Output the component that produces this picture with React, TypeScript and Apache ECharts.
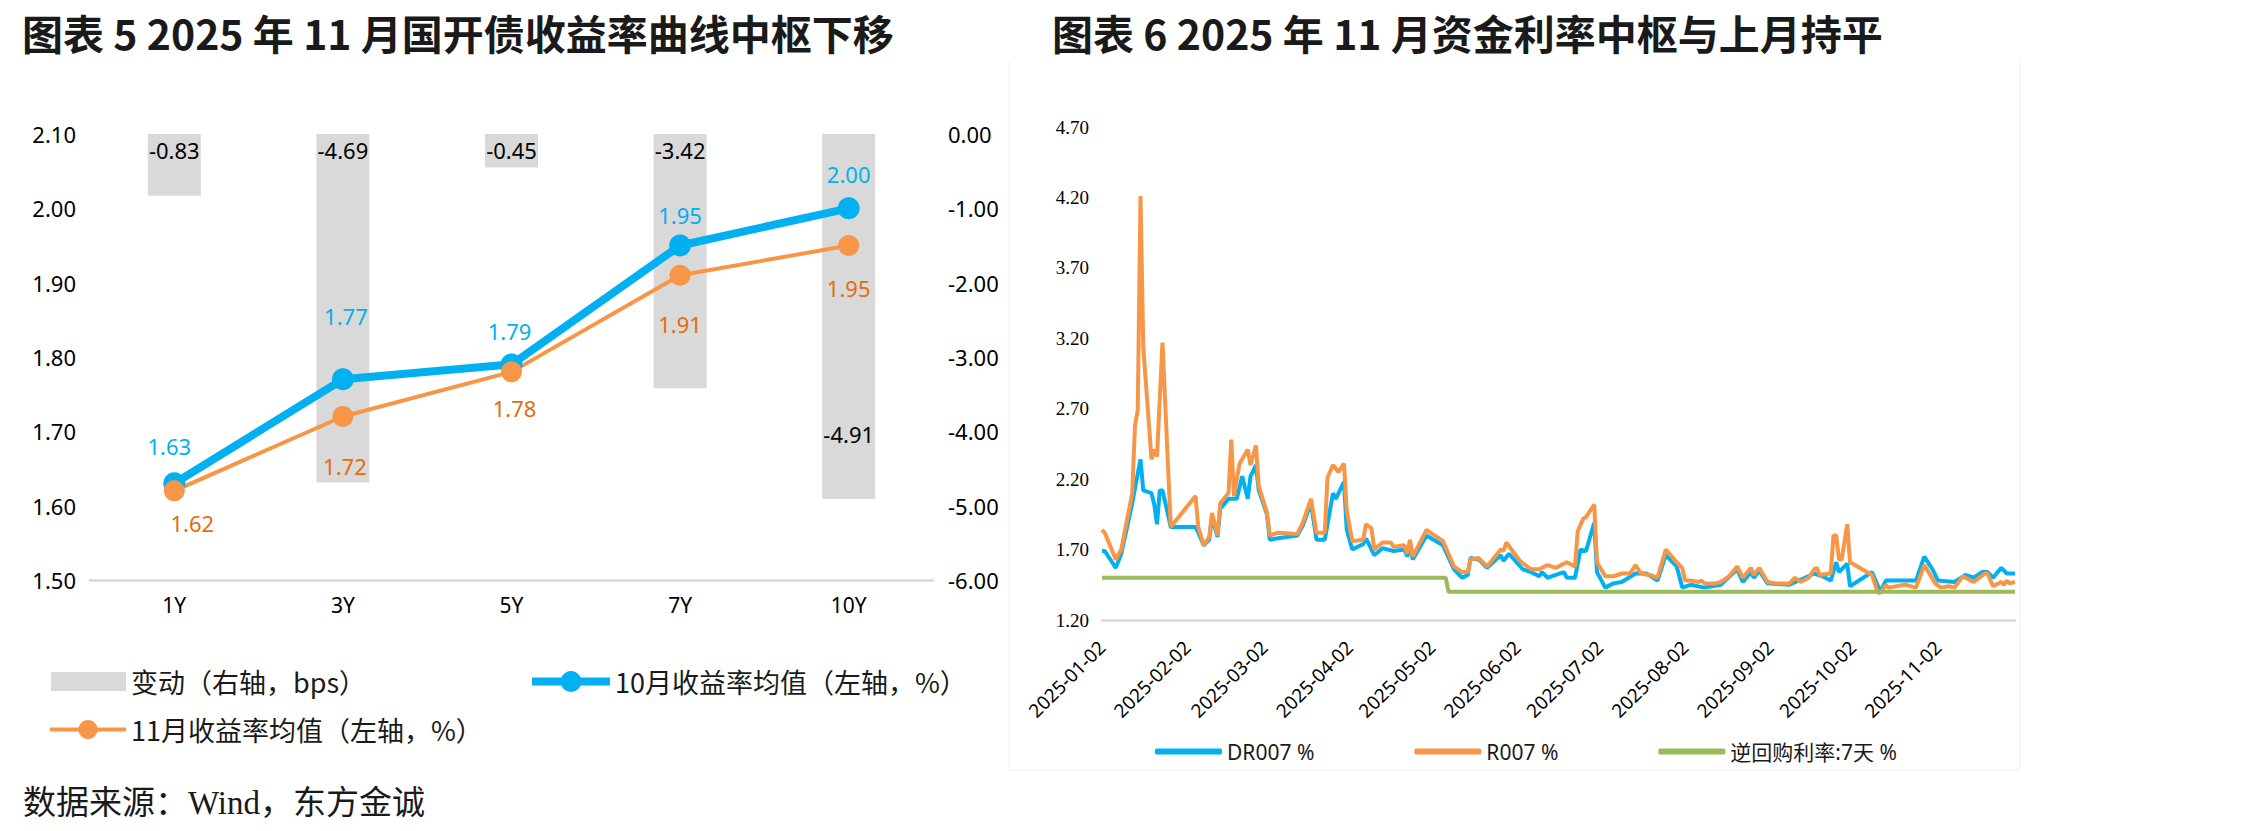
import React, { useEffect, useRef } from 'react';
import * as echarts from 'echarts';

// ---- Figure 5: CDB yield curve (Oct vs Nov average) and change ----
const tenorCategories = ['1Y', '3Y', '5Y', '7Y', '10Y'];
const changeBps = [-0.83, -4.69, -0.45, -3.42, -4.91];
const octAvgYield = [1.63, 1.77, 1.79, 1.95, 2.0];
const novAvgYield = [1.62, 1.72, 1.78, 1.91, 1.95];

// label placement (pixel offsets from each marker centre)
const octLabelOffsets = [[-5, -37], [3, -63], [-2, -33], [0, -31], [0, -34]];
const novLabelOffsets = [[18, 32], [2, 50], [3, 36], [0, 49], [0, 42]];

// ---- Figure 6: money market rates, 2025 ----
const dr007: [string, number][] = [
  ['2025-01-02', 1.69], ['2025-01-03', 1.69], ['2025-01-07', 1.57], ['2025-01-09', 1.67],
  ['2025-01-13', 2.03], ['2025-01-15', 2.24], ['2025-01-16', 2.34], ['2025-01-17', 2.12],
  ['2025-01-20', 2.10], ['2025-01-21', 2.02], ['2025-01-22', 1.88], ['2025-01-23', 2.12],
  ['2025-01-24', 2.12], ['2025-01-27', 1.86], ['2025-02-05', 1.86], ['2025-02-06', 1.82],
  ['2025-02-08', 1.73], ['2025-02-10', 1.77], ['2025-02-11', 1.93], ['2025-02-13', 1.79],
  ['2025-02-14', 1.99], ['2025-02-17', 2.06], ['2025-02-20', 2.06], ['2025-02-22', 2.22],
  ['2025-02-24', 2.06], ['2025-02-25', 2.22], ['2025-02-27', 2.30], ['2025-02-28', 2.12],
  ['2025-03-03', 1.95], ['2025-03-04', 1.77], ['2025-03-07', 1.78], ['2025-03-14', 1.80],
  ['2025-03-16', 1.87], ['2025-03-19', 2.03], ['2025-03-21', 1.77], ['2025-03-24', 1.77],
  ['2025-03-27', 2.10], ['2025-03-28', 2.06], ['2025-03-31', 2.18], ['2025-04-01', 1.84],
  ['2025-04-03', 1.70], ['2025-04-07', 1.74], ['2025-04-08', 1.78], ['2025-04-11', 1.66],
  ['2025-04-14', 1.71], ['2025-04-18', 1.69], ['2025-04-22', 1.70], ['2025-04-23', 1.65],
  ['2025-04-24', 1.73], ['2025-04-25', 1.63], ['2025-04-30', 1.80], ['2025-05-06', 1.73],
  ['2025-05-10', 1.56], ['2025-05-13', 1.50], ['2025-05-15', 1.52], ['2025-05-16', 1.64],
  ['2025-05-19', 1.63], ['2025-05-22', 1.57], ['2025-05-27', 1.66], ['2025-05-28', 1.62],
  ['2025-05-30', 1.67], ['2025-06-04', 1.56], ['2025-06-07', 1.54], ['2025-06-10', 1.51],
  ['2025-06-11', 1.54], ['2025-06-13', 1.50], ['2025-06-16', 1.52], ['2025-06-19', 1.54],
  ['2025-06-20', 1.50], ['2025-06-23', 1.50], ['2025-06-25', 1.70], ['2025-06-27', 1.69],
  ['2025-06-30', 1.89], ['2025-07-01', 1.54], ['2025-07-04', 1.43], ['2025-07-07', 1.46],
  ['2025-07-10', 1.47], ['2025-07-15', 1.53], ['2025-07-19', 1.53], ['2025-07-23', 1.48],
  ['2025-07-26', 1.66], ['2025-07-30', 1.58], ['2025-08-01', 1.43], ['2025-08-04', 1.45],
  ['2025-08-09', 1.43], ['2025-08-15', 1.45], ['2025-08-21', 1.56], ['2025-08-23', 1.47],
  ['2025-08-26', 1.54], ['2025-08-27', 1.50], ['2025-08-29', 1.55], ['2025-09-01', 1.46],
  ['2025-09-09', 1.45], ['2025-09-18', 1.53], ['2025-09-21', 1.51], ['2025-09-24', 1.48],
  ['2025-09-26', 1.61], ['2025-09-27', 1.54], ['2025-09-30', 1.60], ['2025-10-01', 1.44],
  ['2025-10-09', 1.54], ['2025-10-12', 1.40], ['2025-10-14', 1.48], ['2025-10-25', 1.48],
  ['2025-10-28', 1.65], ['2025-10-31', 1.56], ['2025-11-02', 1.48], ['2025-11-08', 1.47],
  ['2025-11-12', 1.52], ['2025-11-15', 1.50], ['2025-11-18', 1.54], ['2025-11-20', 1.54],
  ['2025-11-22', 1.50], ['2025-11-25', 1.57], ['2025-11-27', 1.53], ['2025-11-30', 1.53],
];

const r007: [string, number][] = [
  ['2025-01-02', 1.84], ['2025-01-03', 1.82], ['2025-01-07', 1.63], ['2025-01-09', 1.70],
  ['2025-01-13', 2.10], ['2025-01-14', 2.58], ['2025-01-15', 2.69], ['2025-01-16', 4.21],
  ['2025-01-17', 3.14], ['2025-01-20', 2.34], ['2025-01-21', 2.41], ['2025-01-22', 2.36],
  ['2025-01-24', 3.17], ['2025-01-27', 1.86], ['2025-02-05', 2.08], ['2025-02-06', 1.86],
  ['2025-02-08', 1.73], ['2025-02-10', 1.79], ['2025-02-11', 1.96], ['2025-02-13', 1.80],
  ['2025-02-14', 2.03], ['2025-02-17', 2.10], ['2025-02-18', 2.48], ['2025-02-19', 2.08],
  ['2025-02-21', 2.31], ['2025-02-24', 2.41], ['2025-02-25', 2.30], ['2025-02-27', 2.44],
  ['2025-02-28', 2.15], ['2025-03-03', 1.96], ['2025-03-04', 1.80], ['2025-03-07', 1.82],
  ['2025-03-14', 1.81], ['2025-03-16', 1.89], ['2025-03-19', 2.06], ['2025-03-21', 1.82],
  ['2025-03-24', 1.82], ['2025-03-25', 2.21], ['2025-03-27', 2.30], ['2025-03-29', 2.25],
  ['2025-03-31', 2.31], ['2025-04-01', 1.98], ['2025-04-03', 1.76], ['2025-04-07', 1.77],
  ['2025-04-08', 1.88], ['2025-04-10', 1.85], ['2025-04-11', 1.70], ['2025-04-14', 1.75],
  ['2025-04-17', 1.75], ['2025-04-18', 1.72], ['2025-04-22', 1.73], ['2025-04-23', 1.67],
  ['2025-04-24', 1.77], ['2025-04-25', 1.65], ['2025-04-30', 1.84], ['2025-05-06', 1.76],
  ['2025-05-10', 1.58], ['2025-05-13', 1.54], ['2025-05-15', 1.54], ['2025-05-16', 1.63],
  ['2025-05-19', 1.64], ['2025-05-22', 1.58], ['2025-05-27', 1.70], ['2025-05-28', 1.69],
  ['2025-05-29', 1.75], ['2025-06-03', 1.62], ['2025-06-07', 1.56], ['2025-06-10', 1.56],
  ['2025-06-13', 1.59], ['2025-06-16', 1.57], ['2025-06-20', 1.61], ['2025-06-23', 1.58],
  ['2025-06-24', 1.83], ['2025-06-26', 1.92], ['2025-06-27', 1.93], ['2025-06-30', 2.02],
  ['2025-07-01', 1.61], ['2025-07-04', 1.51], ['2025-07-07', 1.51], ['2025-07-10', 1.53],
  ['2025-07-13', 1.53], ['2025-07-15', 1.59], ['2025-07-17', 1.53], ['2025-07-20', 1.52],
  ['2025-07-23', 1.50], ['2025-07-26', 1.70], ['2025-07-30', 1.61], ['2025-08-01', 1.57],
  ['2025-08-02', 1.48], ['2025-08-04', 1.48], ['2025-08-07', 1.47], ['2025-08-08', 1.48],
  ['2025-08-09', 1.46], ['2025-08-13', 1.46], ['2025-08-15', 1.47], ['2025-08-18', 1.51],
  ['2025-08-21', 1.58], ['2025-08-23', 1.50], ['2025-08-26', 1.57], ['2025-08-27', 1.52],
  ['2025-08-29', 1.57], ['2025-09-01', 1.47], ['2025-09-04', 1.46], ['2025-09-09', 1.46],
  ['2025-09-11', 1.50], ['2025-09-13', 1.47], ['2025-09-16', 1.50], ['2025-09-18', 1.56],
  ['2025-09-19', 1.57], ['2025-09-20', 1.52], ['2025-09-24', 1.53], ['2025-09-25', 1.80],
  ['2025-09-26', 1.80], ['2025-09-27', 1.63], ['2025-09-28', 1.63], ['2025-09-30', 1.88],
  ['2025-10-01', 1.61], ['2025-10-09', 1.52], ['2025-10-11', 1.40], ['2025-10-12', 1.39],
  ['2025-10-14', 1.45], ['2025-10-15', 1.43], ['2025-10-21', 1.45], ['2025-10-25', 1.43],
  ['2025-10-28', 1.59], ['2025-11-01', 1.46], ['2025-11-03', 1.43], ['2025-11-06', 1.44],
  ['2025-11-08', 1.43], ['2025-11-11', 1.51], ['2025-11-15', 1.47], ['2025-11-19', 1.53],
  ['2025-11-20', 1.53], ['2025-11-22', 1.44], ['2025-11-25', 1.47], ['2025-11-26', 1.45],
  ['2025-11-27', 1.48], ['2025-11-28', 1.46], ['2025-11-30', 1.47],
];

const reverseRepo7d: [string, number][] = [
  ['2025-01-02', 1.5], ['2025-05-07', 1.5], ['2025-05-08', 1.4], ['2025-11-30', 1.4],
];

// calendar days on the date axis, 2025-01-02 .. 2025-11-30
const axisDates: string[] = [];
{
  const day = new Date(Date.UTC(2025, 0, 2));
  const last = Date.UTC(2025, 10, 30);
  while (day.getTime() <= last) {
    axisDates.push(day.toISOString().slice(0, 10));
    day.setUTCDate(day.getUTCDate() + 1);
  }
}

const BLUE = '#00B0F0';
const ORANGE = '#F79646';
const ORANGE_TEXT = '#E46C0A';
const GREEN = '#9BBB59';
const GREY_BAR = '#D9D9D9';
const SANS = '"Noto Sans", "Noto Sans CJK SC", sans-serif';
const CJK = '"Noto Sans CJK SC", "Noto Sans", sans-serif';

const NAME_CHG = '变动（右轴，bps）';
const NAME_OCT = '10月收益率均值（左轴，%）';
const NAME_NOV = '11月收益率均值（左轴，%）';
const NAME_DR = 'DR007 %';
const NAME_R = 'R007 %';
const NAME_RR = '逆回购利率:7天 %';

export default function App() {
  const ref = useRef<HTMLDivElement>(null);

  useEffect(() => {
    document.body.style.margin = '0';
    if (!ref.current) return;
    const chart = echarts.init(ref.current, undefined, { renderer: 'svg' });

    const option: any = {
      animation: false,
      backgroundColor: '#ffffff',
      grid: [
        { left: 90, top: 134, width: 843, height: 446 },
        { left: 1102, top: 127, width: 913, height: 493 },
      ],
      xAxis: [
        {
          gridIndex: 0,
          type: 'category',
          data: tenorCategories,
          axisLine: { onZero: false, lineStyle: { color: '#D9D9D9', width: 2.5 } },
          axisTick: { show: false },
          axisLabel: { fontSize: 21, color: '#000', margin: 14, fontFamily: SANS },
        },
        {
          gridIndex: 1,
          type: 'category',
          data: axisDates,
          boundaryGap: false,
          axisLine: { onZero: false, lineStyle: { color: '#D9D9D9', width: 2.5 } },
          axisTick: { show: false },
          axisLabel: {
            rotate: 45,
            fontSize: 19,
            color: '#000',
            margin: 24,
            fontFamily: SANS,
            interval: (_i: number, v: string) => v.endsWith('-02'),
          },
        },
      ],
      yAxis: [
        {
          gridIndex: 0,
          type: 'value',
          position: 'left',
          min: 1.5,
          max: 2.1,
          interval: 0.1,
          splitLine: { show: false },
          axisLine: { show: false },
          axisTick: { show: false },
          axisLabel: {
            fontSize: 22, color: '#000', margin: 14, fontFamily: SANS,
            formatter: (v: number) => v.toFixed(2),
          },
        },
        {
          gridIndex: 0,
          type: 'value',
          position: 'right',
          min: -6,
          max: 0,
          interval: 1,
          splitLine: { show: false },
          axisLine: { show: false },
          axisTick: { show: false },
          axisLabel: {
            fontSize: 22, color: '#000', margin: 15, fontFamily: SANS,
            formatter: (v: number) => v.toFixed(2),
          },
        },
        {
          gridIndex: 1,
          type: 'value',
          min: 1.2,
          max: 4.7,
          interval: 0.5,
          splitLine: { show: false },
          axisLine: { show: false },
          axisTick: { show: false },
          axisLabel: {
            fontSize: 19, color: '#000', margin: 13,
            fontFamily: '"Liberation Serif", "Times New Roman", serif',
            formatter: (v: number) => v.toFixed(2),
          },
        },
      ],
      legend: [
        {
          data: [NAME_CHG],
          left: 46, top: 663,
          icon: 'rect',
          itemWidth: 75, itemHeight: 19,
          textStyle: { fontSize: 27, color: '#1a1a1a', fontFamily: CJK },
        },
        {
          data: [NAME_OCT],
          left: 523, top: 663,
          itemWidth: 78, itemHeight: 26,
          lineStyle: { width: 8 },
          textStyle: { fontSize: 27, color: '#1a1a1a', fontFamily: CJK },
        },
        {
          data: [NAME_NOV],
          left: 43, top: 711,
          itemWidth: 76, itemHeight: 24,
          lineStyle: { width: 4 },
          textStyle: { fontSize: 27, color: '#1a1a1a', fontFamily: CJK },
        },
        {
          data: [NAME_DR, NAME_R, NAME_RR],
          left: 1150, top: 736,
          icon: 'roundRect',
          itemWidth: 67, itemHeight: 6,
          itemGap: 100,
          textStyle: { fontSize: 21, color: '#1a1a1a', fontFamily: SANS },
        },
      ],
      series: [
        {
          name: NAME_CHG,
          type: 'bar',
          xAxisIndex: 0,
          yAxisIndex: 1,
          barWidth: 53,
          itemStyle: { color: GREY_BAR },
          label: {
            show: true,
            position: 'insideTop',
            distance: 5,
            fontSize: 22,
            color: '#000',
            fontFamily: SANS,
            formatter: (p: any) => Number(p.value).toFixed(2),
          },
          data: changeBps.map((v, i) =>
            i === changeBps.length - 1
              ? { value: v, label: { position: 'insideBottom', distance: 54 } }
              : { value: v }
          ),
        },
        {
          name: NAME_OCT,
          type: 'line',
          xAxisIndex: 0,
          yAxisIndex: 0,
          symbol: 'circle',
          symbolSize: 22,
          lineStyle: { width: 8, color: BLUE },
          itemStyle: { color: BLUE },
          label: {
            show: true,
            position: 'inside',
            fontSize: 22,
            color: BLUE,
            fontFamily: SANS,
            formatter: (p: any) => Number(p.value).toFixed(2),
          },
          data: octAvgYield.map((v, i) => ({ value: v, label: { offset: octLabelOffsets[i] } })),
        },
        {
          name: NAME_NOV,
          type: 'line',
          xAxisIndex: 0,
          yAxisIndex: 0,
          symbol: 'circle',
          symbolSize: 21,
          lineStyle: { width: 4, color: ORANGE },
          itemStyle: { color: ORANGE },
          label: {
            show: true,
            position: 'inside',
            fontSize: 22,
            color: ORANGE_TEXT,
            fontFamily: SANS,
            formatter: (p: any) => Number(p.value).toFixed(2),
          },
          data: novAvgYield.map((v, i) => ({ value: v, label: { offset: novLabelOffsets[i] } })),
        },
        {
          name: NAME_DR,
          type: 'line',
          xAxisIndex: 1,
          yAxisIndex: 2,
          symbol: 'none',
          lineStyle: { width: 4, color: BLUE },
          itemStyle: { color: BLUE },
          data: dr007,
        },
        {
          name: NAME_R,
          type: 'line',
          xAxisIndex: 1,
          yAxisIndex: 2,
          symbol: 'none',
          lineStyle: { width: 4, color: ORANGE },
          itemStyle: { color: ORANGE },
          data: r007,
        },
        {
          name: NAME_RR,
          type: 'line',
          xAxisIndex: 1,
          yAxisIndex: 2,
          symbol: 'none',
          lineStyle: { width: 4, color: GREEN },
          itemStyle: { color: GREEN },
          data: reverseRepo7d,
        },
      ],
      graphic: [
        {
          type: 'polyline',
          silent: true,
          shape: { points: [[1009, 62], [1009, 770], [2020, 770], [2020, 62]] },
          style: { stroke: '#F0F0F0', fill: 'none', lineWidth: 1 },
        },
        {
          type: 'text',
          x: 22, y: 32,
          style: {
            text: '图表 5 2025 年 11 月国开债收益率曲线中枢下移',
            fontSize: 41, fontWeight: 'bold', fontFamily: CJK,
            fill: '#1a1a1a', verticalAlign: 'middle',
          },
        },
        {
          type: 'text',
          x: 1052, y: 32,
          style: {
            text: '图表 6 2025 年 11 月资金利率中枢与上月持平',
            fontSize: 41, fontWeight: 'bold', fontFamily: CJK,
            fill: '#1a1a1a', verticalAlign: 'middle',
          },
        },
        {
          type: 'text',
          x: 23, y: 803,
          style: {
            text: '数据来源：Wind，东方金诚',
            fontSize: 33,
            fontFamily: '"Liberation Serif", "Noto Sans CJK SC", serif',
            fill: '#1a1a1a', verticalAlign: 'middle',
          },
        },
      ],
    };

    chart.setOption(option);
    return () => chart.dispose();
  }, []);

  return <div ref={ref} style={{ width: 2244, height: 831 }} />;
}
